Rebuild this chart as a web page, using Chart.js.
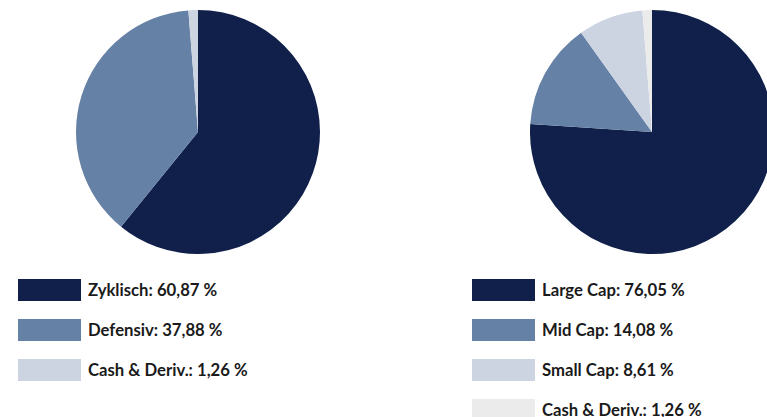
<!DOCTYPE html>
<html>
<head>
<meta charset="utf-8">
<script src="https://cdn.jsdelivr.net/npm/chart.js@4"></script>
<style>
  html, body { margin: 0; padding: 0; background: #fff; }
  body { width: 767px; height: 417px; overflow: hidden; position: relative; font-family: Lato, "Open Sans", sans-serif; }
  .pie { position: absolute; top: 10px; width: 244px; height: 244px; }
  .legend { position: absolute; top: 279px; }
  .item { display: flex; align-items: center; height: 22px; margin-bottom: 18px; }
  .box { width: 63px; height: 22px; margin-right: 7px; }
  .label { font-weight: bold; font-size: 16.7px; color: #1a1a1a; white-space: nowrap; }
</style>
</head>
<body>
<div class="pie" style="left:76px"><canvas id="pieStil" width="244" height="244"></canvas></div>
<div class="pie" style="left:530px"><canvas id="pieGroesse" width="244" height="244"></canvas></div>
<div class="legend" id="legStil" style="left:18px"></div>
<div class="legend" id="legGroesse" style="left:472px"></div>
<script>
// Stil
const stilLabels = ['Zyklisch', 'Defensiv', 'Cash & Deriv.'];
const stilValues = [60.87, 37.88, 1.26];
const stilColors = ['#10204a', '#6581a6', '#ccd4e2'];

// Größe
const groesseLabels = ['Large Cap', 'Mid Cap', 'Small Cap', 'Cash & Deriv.'];
const groesseValues = [76.05, 14.08, 8.61, 1.26];
const groesseColors = ['#10204a', '#6581a6', '#ccd4e2', '#ebebeb'];

const fmt = v => v.toFixed(2).replace('.', ',') + ' %';

function makePie(id, labels, values, colors) {
  new Chart(document.getElementById(id), {
    type: 'pie',
    data: {
      labels: labels,
      datasets: [{ data: values, backgroundColor: colors, borderWidth: 0 }]
    },
    options: {
      responsive: false,
      animation: false,
      layout: { padding: 0 },
      plugins: { legend: { display: false }, tooltip: { enabled: false } }
    }
  });
}

function makeLegend(id, labels, values, colors) {
  const el = document.getElementById(id);
  labels.forEach((l, i) => {
    const row = document.createElement('div');
    row.className = 'item';
    row.innerHTML = `<div class="box" style="background:${colors[i]}"></div><span class="label">${l.replace('&', '&amp;')}: ${fmt(values[i])}</span>`;
    el.appendChild(row);
  });
}

makePie('pieStil', stilLabels, stilValues, stilColors);
makePie('pieGroesse', groesseLabels, groesseValues, groesseColors);
makeLegend('legStil', stilLabels, stilValues, stilColors);
makeLegend('legGroesse', groesseLabels, groesseValues, groesseColors);
</script>
</body>
</html>
